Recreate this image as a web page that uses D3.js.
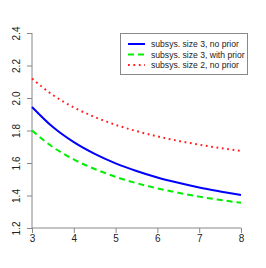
<!DOCTYPE html>
<html>
<head>
<meta charset="utf-8">
<script src="https://cdn.jsdelivr.net/npm/d3@7"></script>
<style>
body { margin: 0; background: #fff; }
svg { display: block; font-family: "Liberation Sans", Arial, sans-serif; }
</style>
</head>
<body>
<svg id="chart" width="266" height="268"></svg>
<script>
var width = 266
var height = 268

// subsystem size along x
var sizes = [3, 3.5, 4, 4.5, 5, 5.5, 6, 6.5, 7, 7.5, 8];
var size3NoPrior   = [1.945, 1.821, 1.728, 1.656, 1.598, 1.551, 1.511, 1.478, 1.449, 1.425, 1.403];
var size3WithPrior = [1.800, 1.698, 1.622, 1.563, 1.515, 1.476, 1.444, 1.417, 1.393, 1.373, 1.355];
var size2NoPrior   = [2.120, 2.018, 1.942, 1.883, 1.835, 1.796, 1.764, 1.736, 1.713, 1.692, 1.674];

var xTicks = [3, 4, 5, 6, 7, 8];
var yTicks = [1.2, 1.4, 1.6, 1.8, 2.0, 2.2, 2.4];
var seriesNames = ["subsys. size 3, no prior", "subsys. size 3, with prior", "subsys. size 2, no prior"];

var svg = d3.select('#chart');

var x = d3.scaleLinear().domain([3, 8]).range([32, 241]);
var y = d3.scaleLinear().domain([1.2, 2.4]).range([228, 33]);

var series = [
    { name: seriesNames[0], values: size3NoPrior,   color: "#0000ff", dash: null },
    { name: seriesNames[1], values: size3WithPrior, color: "#00ee00", dash: "6,4" },
    { name: seriesNames[2], values: size2NoPrior,   color: "#ff2020", dash: "1.8,3.6" }
];

// axes
var xAxis = d3.axisBottom(x).tickValues(xTicks).tickSize(5).tickPadding(2).tickFormat(d3.format("d"));
var yAxis = d3.axisLeft(y).tickValues(yTicks).tickSize(5).tickPadding(2).tickFormat(d3.format(".1f"));

var gx = svg.append("g").attr("transform", "translate(0,228)").call(xAxis);
var gy = svg.append("g").attr("transform", "translate(32,0)").call(yAxis);

[gx, gy].forEach(function(g) {
    g.select(".domain").attr("stroke", "#888").attr("d", function() {
        return g === gx ? "M32,0H241" : "M0,228V33";
    });
    g.selectAll(".tick line").attr("stroke", "#888");
    g.selectAll(".tick text").attr("fill", "#222").attr("font-size", 10)
        .attr("font-family", "Liberation Sans, Arial, sans-serif");
});

gx.selectAll(".tick text").attr("dy", "0.71em").attr("y", 7);
gy.selectAll(".tick text")
    .attr("text-anchor", "middle")
    .attr("x", null).attr("dy", null)
    .attr("transform", "translate(-12,0) rotate(-90)");

// lines
var line = d3.line()
    .x(function(d, i) { return x(sizes[i]); })
    .y(function(d) { return y(d); })
    .curve(d3.curveMonotoneX);

series.forEach(function(s) {
    svg.append("path")
        .datum(s.values)
        .attr("fill", "none")
        .attr("stroke", s.color)
        .attr("stroke-width", 2)
        .attr("stroke-dasharray", s.dash)
        .attr("d", line);
});

// legend
var legend = svg.append("g");
legend.append("rect")
    .attr("x", 120.5).attr("y", 33.5)
    .attr("width", 127).attr("height", 41)
    .attr("fill", "#fff").attr("stroke", "#888");

series.forEach(function(s, i) {
    var ly = 44 + i * 10.5;
    legend.append("line")
        .attr("x1", 128).attr("x2", 145)
        .attr("y1", ly).attr("y2", ly)
        .attr("stroke", s.color)
        .attr("stroke-width", 2)
        .attr("stroke-dasharray", s.dash);
    legend.append("text")
        .attr("x", 151).attr("y", ly)
        .attr("dy", "0.35em")
        .attr("font-size", 8.6)
        .attr("fill", "#222")
        .text(s.name);
});
</script>
</body>
</html>
